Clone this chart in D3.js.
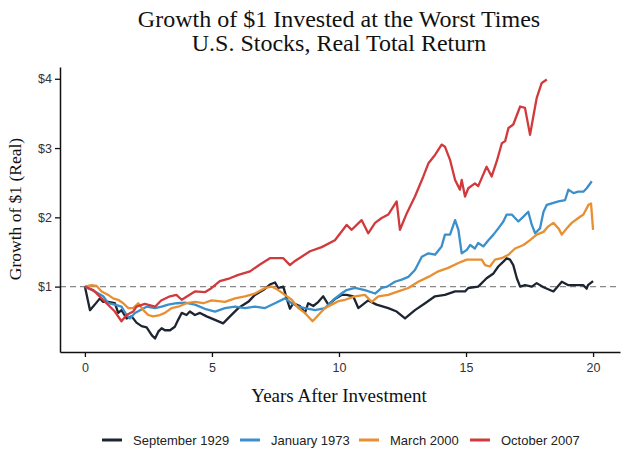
<!DOCTYPE html><html>
<head>
    <meta charset="utf-8">
    <style>
        body { margin: 0; background: #fff; }
        text { font-family: "Liberation Sans", Arial, sans-serif; }
        .serif { font-family: "Liberation Serif", "DejaVu Serif", serif; fill: #111; }
    </style>
</head>
<body>
    <script src="https://cdn.jsdelivr.net/npm/d3@7"></script>
    <script>
        // years after investment / growth of $1
        var sep1929 = [[0,1.0],[0.2,0.66],[0.39,0.74],[0.59,0.83],[0.72,0.78],[0.92,0.78],[1.18,0.76],[1.31,0.62],[1.44,0.66],[1.64,0.54],[1.84,0.57],[2.03,0.48],[2.23,0.43],[2.43,0.41],[2.63,0.30],[2.76,0.25],[2.89,0.35],[3.02,0.40],[3.15,0.37],[3.35,0.37],[3.54,0.42],[3.67,0.52],[3.81,0.62],[4.0,0.59],[4.13,0.64],[4.33,0.59],[4.53,0.62],[4.79,0.57],[5.12,0.52],[5.44,0.47],[5.71,0.57],[6.04,0.69],[6.43,0.78],[6.69,0.88],[7.02,0.95],[7.28,1.03],[7.48,1.06],[7.61,0.98],[7.81,1.0],[7.94,0.83],[8.07,0.68],[8.2,0.76],[8.46,0.72],[8.66,0.62],[8.79,0.76],[8.99,0.72],[9.19,0.78],[9.38,0.86],[9.58,0.74],[9.84,0.82],[10.1,0.88],[10.3,0.88],[10.56,0.86],[10.76,0.69],[11.15,0.80],[11.48,0.74],[11.94,0.69],[12.27,0.64],[12.6,0.54],[12.99,0.66],[13.39,0.76],[13.78,0.86],[14.17,0.88],[14.57,0.93],[14.96,0.93],[15.09,0.98],[15.48,1.0],[15.81,1.12],[16.08,1.19],[16.27,1.29],[16.47,1.36],[16.6,1.41],[16.73,1.39],[16.86,1.31],[17.0,1.12],[17.13,1.0],[17.32,1.02],[17.59,1.0],[17.78,1.05],[18.05,0.99],[18.44,0.93],[18.77,1.07],[19.03,1.02],[19.29,1.02],[19.62,1.02],[19.75,0.97],[19.8,1.02],[20.0,1.08]];

        var jan1973 = [[0,1.0],[0.39,0.93],[0.72,0.86],[0.92,0.76],[1.18,0.74],[1.44,0.71],[1.64,0.59],[1.77,0.54],[1.97,0.62],[2.17,0.66],[2.43,0.71],[2.76,0.69],[3.02,0.71],[3.28,0.74],[3.61,0.76],[3.94,0.77],[4.33,0.74],[4.72,0.68],[5.12,0.64],[5.51,0.69],[5.91,0.71],[6.3,0.69],[6.69,0.71],[7.09,0.69],[7.48,0.76],[7.87,0.83],[8.14,0.76],[8.4,0.71],[8.66,0.69],[9.06,0.66],[9.45,0.69],[9.78,0.81],[10.1,0.90],[10.3,0.95],[10.63,0.98],[11.02,0.95],[11.42,0.90],[11.68,0.98],[11.9,1.0],[12.2,1.07],[12.47,1.10],[12.73,1.14],[12.99,1.24],[13.26,1.43],[13.52,1.48],[13.78,1.46],[14.04,1.58],[14.17,1.75],[14.37,1.75],[14.57,1.96],[14.7,1.82],[14.83,1.48],[15.03,1.53],[15.16,1.60],[15.35,1.55],[15.48,1.63],[15.68,1.58],[15.88,1.67],[16.08,1.75],[16.27,1.84],[16.47,1.94],[16.6,2.04],[16.8,2.04],[16.93,1.99],[17.06,1.94],[17.26,2.01],[17.45,2.08],[17.59,1.89],[17.72,1.77],[17.91,1.84],[18.05,2.08],[18.18,2.18],[18.44,2.21],[18.64,2.23],[18.9,2.25],[19.03,2.40],[19.23,2.35],[19.42,2.37],[19.62,2.37],[19.75,2.42],[19.95,2.52]];

        var mar2000 = [[0,1.0],[0.26,1.02],[0.46,1.01],[0.66,0.93],[0.92,0.88],[1.11,0.83],[1.31,0.81],[1.51,0.76],[1.71,0.69],[1.9,0.69],[2.1,0.76],[2.3,0.66],[2.49,0.59],[2.69,0.57],[2.95,0.59],[3.15,0.62],[3.41,0.69],[3.67,0.71],[4.0,0.76],[4.33,0.78],[4.66,0.76],[4.99,0.80],[5.51,0.78],[5.91,0.83],[6.3,0.86],[6.69,0.90],[7.09,0.98],[7.35,1.0],[7.61,0.95],[7.87,0.88],[8.14,0.81],[8.4,0.69],[8.66,0.62],[8.96,0.50],[9.19,0.59],[9.45,0.69],[9.71,0.74],[9.97,0.79],[10.24,0.81],[10.63,0.86],[11.02,0.88],[11.29,0.78],[11.55,0.86],[11.94,0.88],[12.33,0.93],[12.73,0.98],[13.12,1.07],[13.52,1.14],[13.91,1.22],[14.3,1.27],[14.7,1.34],[15.03,1.39],[15.35,1.39],[15.62,1.39],[15.75,1.31],[15.94,1.29],[16.14,1.39],[16.4,1.41],[16.67,1.46],[16.93,1.55],[17.26,1.60],[17.52,1.67],[17.78,1.75],[18.05,1.79],[18.24,1.87],[18.44,1.92],[18.64,1.84],[18.77,1.75],[18.96,1.84],[19.16,1.92],[19.42,1.99],[19.62,2.04],[19.82,2.18],[19.92,2.20],[20.0,1.82]];

        var oct2007 = [[0,1.0],[0.33,0.95],[0.6,0.85],[0.85,0.76],[1.18,0.64],[1.44,0.50],[1.64,0.59],[1.9,0.64],[2.03,0.71],[2.36,0.75],[2.76,0.71],[3.0,0.80],[3.35,0.86],[3.6,0.88],[3.81,0.81],[4.33,0.93],[4.72,0.92],[4.99,0.98],[5.31,1.08],[5.7,1.12],[6.04,1.17],[6.5,1.22],[6.89,1.32],[7.28,1.41],[7.81,1.41],[8.07,1.31],[8.27,1.37],[8.86,1.51],[9.32,1.57],[9.84,1.67],[10.3,1.89],[10.5,1.82],[10.89,1.96],[11.15,1.77],[11.42,1.92],[11.68,1.99],[11.94,2.04],[12.27,2.23],[12.4,1.82],[12.67,2.06],[12.99,2.30],[13.32,2.59],[13.52,2.78],[13.78,2.90],[14.04,3.05],[14.17,3.02],[14.37,2.83],[14.57,2.54],[14.76,2.40],[14.83,2.54],[14.96,2.30],[15.09,2.42],[15.35,2.49],[15.48,2.45],[15.62,2.57],[15.81,2.73],[16.01,2.59],[16.21,2.81],[16.41,3.07],[16.54,3.10],[16.67,3.29],[16.86,3.34],[17.13,3.60],[17.32,3.58],[17.52,3.19],[17.65,3.46],[17.78,3.72],[17.98,3.94],[18.18,3.99]];

        var seriesNames = ["September 1929", "January 1973", "March 2000", "October 2007"];
        var seriesColors = ["#1c2530", "#3b8fca", "#e88f31", "#d13a3c"];
        var xTicks = [0, 5, 10, 15, 20];
        var yTicks = [1, 2, 3, 4];

        var allSeries = [sep1929, jan1973, mar2000, oct2007];

        var width = 626, height = 450;
        var svg = d3.select("body").append("svg")
            .attr("width", width)
            .attr("height", height);

        var x = d3.scaleLinear().domain([-0.98, 21.06]).range([60, 620]);
        var y = d3.scaleLinear().domain([0.056, 4.17]).range([352, 67]);

        // title, two lines
        var titleLines = ["Growth of $1 Invested at the Worst Times", "U.S. Stocks, Real Total Return"];
        svg.selectAll(".title")
            .data(titleLines)
            .enter().append("text")
            .attr("class", "title serif")
            .attr("text-anchor", "middle")
            .attr("x", 339)
            .attr("y", function(d, i) { return 27 + i * 24; })
            .style("font-size", "24px")
            .text(function(d) { return d; });

        // reference line at $1
        svg.append("line")
            .attr("x1", 60).attr("x2", 620)
            .attr("y1", y(1)).attr("y2", y(1))
            .attr("stroke", "#888")
            .attr("stroke-width", 1.3)
            .attr("stroke-dasharray", "6,4");

        var line = d3.line()
            .x(function(d) { return x(d[0]); })
            .y(function(d) { return y(d[1]); });

        svg.selectAll(".series")
            .data(allSeries)
            .enter().append("path")
            .attr("class", "series")
            .attr("fill", "none")
            .attr("stroke", function(d, i) { return seriesColors[i]; })
            .attr("stroke-width", 2.3)
            .attr("stroke-linejoin", "round")
            .attr("d", line);

        // axes
        var xAxis = svg.append("g")
            .attr("transform", "translate(0,352)")
            .call(d3.axisBottom(x).tickValues(xTicks).tickSize(5).tickSizeOuter(0));
        var yAxis = svg.append("g")
            .attr("transform", "translate(60,0)")
            .call(d3.axisLeft(y).tickValues(yTicks).tickSize(5).tickSizeOuter(0)
                .tickFormat(function(d) { return "$" + d; }));

        [xAxis, yAxis].forEach(function(g) {
            g.select(".domain").attr("stroke", "#111").attr("stroke-width", 1.5);
            g.selectAll(".tick line").attr("stroke", "#111").attr("stroke-width", 1.3);
            g.selectAll(".tick text")
                .style("font-family", "Liberation Sans, Arial, sans-serif")
                .style("font-size", "12.5px")
                .attr("fill", "#333");
        });
        xAxis.selectAll(".tick text").attr("dy", "0.95em");

        svg.append("text")
            .attr("class", "serif")
            .attr("text-anchor", "middle")
            .attr("x", 339).attr("y", 402)
            .style("font-size", "19px")
            .text("Years After Investment");

        svg.append("text")
            .attr("class", "serif")
            .attr("text-anchor", "middle")
            .attr("transform", "translate(21,209) rotate(-90)")
            .style("font-size", "17.5px")
            .text("Growth of $1 (Real)");

        // legend
        var legendX = [102, 240, 359, 470];
        var legend = svg.selectAll(".legend")
            .data(seriesNames)
            .enter().append("g")
            .attr("class", "legend")
            .attr("transform", function(d, i) { return "translate(" + legendX[i] + ",440)"; });
        legend.append("line")
            .attr("x1", 0).attr("x2", 20)
            .attr("stroke", function(d, i) { return seriesColors[i]; })
            .attr("stroke-width", 3);
        legend.append("text")
            .attr("x", 31).attr("dy", "0.35em")
            .style("font-size", "13px")
            .attr("fill", "#222")
            .text(function(d) { return d; });
    </script>
</body></html>
